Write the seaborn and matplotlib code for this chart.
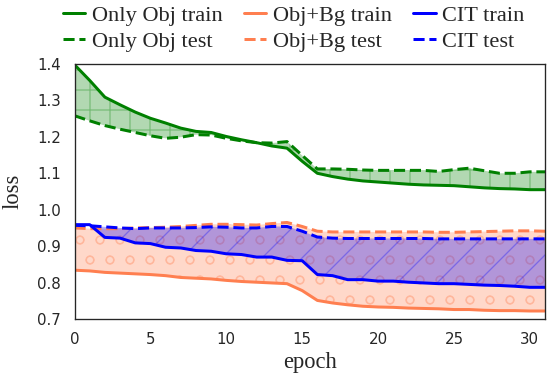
import numpy as np
import seaborn as sns
import matplotlib
matplotlib.use("Agg")
from matplotlib import pyplot as plt

# loss curves, epochs 0..31
epochs = list(range(32))

only_obj_train = [1.398, 1.355, 1.309, 1.288, 1.268, 1.251, 1.238, 1.224, 1.215, 1.212, 1.201, 1.192,
                  1.184, 1.175, 1.169, 1.133, 1.100, 1.091, 1.084, 1.079, 1.076, 1.073, 1.070, 1.068,
                  1.067, 1.066, 1.063, 1.060, 1.058, 1.057, 1.055, 1.055]
only_obj_test = [1.258, 1.244, 1.231, 1.221, 1.212, 1.203, 1.196, 1.199, 1.206, 1.205, 1.196, 1.189,
                 1.184, 1.183, 1.187, 1.149, 1.112, 1.112, 1.111, 1.109, 1.108, 1.108, 1.108, 1.108,
                 1.105, 1.110, 1.114, 1.107, 1.100, 1.100, 1.104, 1.104]

objbg_train = [0.834, 0.832, 0.828, 0.826, 0.824, 0.822, 0.819, 0.814, 0.812, 0.810, 0.806, 0.803,
               0.801, 0.799, 0.797, 0.778, 0.751, 0.744, 0.739, 0.735, 0.733, 0.732, 0.730, 0.729,
               0.728, 0.726, 0.726, 0.724, 0.723, 0.723, 0.722, 0.722]
objbg_test = [0.950, 0.948, 0.948, 0.948, 0.950, 0.951, 0.952, 0.954, 0.957, 0.960, 0.960, 0.959,
              0.958, 0.962, 0.965, 0.954, 0.941, 0.939, 0.939, 0.939, 0.939, 0.939, 0.939, 0.939,
              0.938, 0.938, 0.939, 0.940, 0.941, 0.942, 0.942, 0.941]

cit_train = [0.959, 0.959, 0.924, 0.922, 0.909, 0.907, 0.897, 0.895, 0.888, 0.886, 0.879, 0.877,
             0.870, 0.870, 0.861, 0.860, 0.822, 0.819, 0.808, 0.808, 0.804, 0.804, 0.801, 0.799,
             0.797, 0.797, 0.795, 0.793, 0.792, 0.790, 0.787, 0.787]
cit_test = [0.957, 0.956, 0.953, 0.950, 0.948, 0.950, 0.950, 0.950, 0.951, 0.953, 0.952, 0.950,
            0.950, 0.954, 0.954, 0.941, 0.925, 0.922, 0.921, 0.921, 0.921, 0.921, 0.921, 0.921,
            0.920, 0.920, 0.920, 0.920, 0.920, 0.920, 0.920, 0.920]

groups = [
    ("Only Obj", only_obj_train, only_obj_test, "green", "+"),
    ("Obj+Bg", objbg_train, objbg_test, "coral", "o"),
    ("CIT", cit_train, cit_test, "blue", "/"),
]

sns.set_style("white")
plt.rcParams["font.family"] = ["DejaVu Sans"]
plt.rcParams["hatch.linewidth"] = 0.8
serif = "Liberation Serif"

fig, ax = plt.subplots(figsize=(554 / 120, 380 / 120), dpi=120)
fig.subplots_adjust(left=0.1345, right=0.9838, top=0.8316, bottom=0.1605)

for name, train, test, color, hatch in groups:
    ax.fill_between(epochs, train, test, color=color, alpha=0.3, hatch=hatch, linewidth=0)
    sns.lineplot(x=epochs, y=train, color=color, linewidth=1.8, label=f"{name} train", ax=ax)
    sns.lineplot(x=epochs, y=test, color=color, linewidth=1.8, linestyle="--", label=f"{name} test", ax=ax)

ax.set_xlim(0, 31)
ax.set_ylim(0.7, 1.4)
ax.set_yticks([0.7, 0.8, 0.9, 1.0, 1.1, 1.2, 1.3, 1.4])
ax.set_xticks([0, 5, 10, 15, 20, 25, 30])
ax.tick_params(labelsize=9, pad=4.5)
ax.set_xlabel("epoch", fontfamily=serif, fontsize=13.5, labelpad=3)
ax.set_ylabel("loss", fontfamily=serif, fontsize=13.5, labelpad=8)

h, l = ax.get_legend_handles_labels()
ax.get_legend().remove()
fig.legend(h, l, loc="upper left", bbox_to_anchor=(63 / 554, 1 - 5 / 380), ncol=3, frameon=False,
           prop={"family": serif, "size": 13.4}, handlelength=1.0, handletextpad=0.3,
           columnspacing=0.95, labelspacing=0.25, borderpad=0, borderaxespad=0)

plt.savefig("out.png", dpi=120)
